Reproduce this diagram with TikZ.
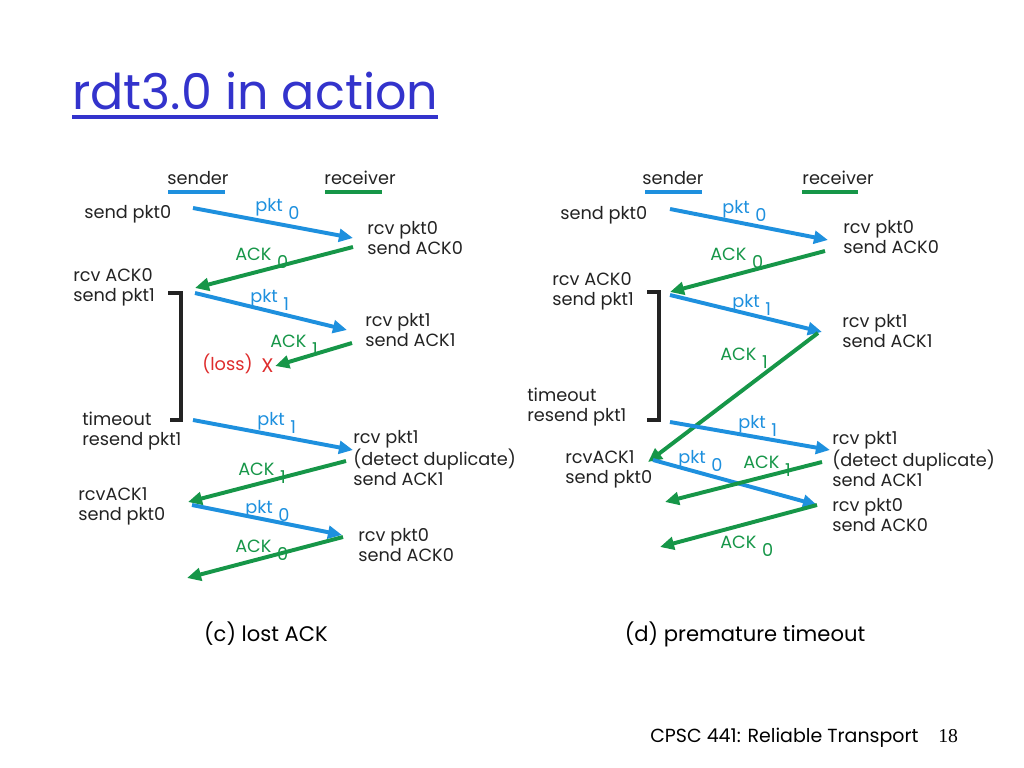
\documentclass[tikz,border=0pt]{standalone}
\usepackage{fontspec}
\setmainfont{Poppins}
\newfontfamily\pagefont{Liberation Serif}
\usetikzlibrary{arrows.meta}
\definecolor{pktblue}{RGB}{30,144,222}
\definecolor{ackgreen}{RGB}{22,150,72}
\definecolor{lossred}{RGB}{222,44,44}
\definecolor{titleblue}{RGB}{51,51,204}
\definecolor{inkgray}{RGB}{35,35,35}
\newcommand{\seqlbl}[2]{#1\hspace{4pt}\raisebox{-6pt}{#2}}

\begin{document}
\begin{tikzpicture}[x=0.025cm, y=-0.025cm, every node/.style={inner sep=0pt},
    txt/.style={font=\fontsize{12.6}{14.2}\selectfont, text=inkgray, align=left, anchor=west},
    seq/.style={font=\fontsize{12.6}{14}\selectfont, anchor=base west},
    pktarrow/.style={draw=pktblue, line width=2.8pt, -{Triangle[length=10pt,width=9pt]}},
    ackarrow/.style={pktarrow, draw=ackgreen},
    timer/.style={draw=inkgray, line width=2.2pt}]
    \useasboundingbox (0,0) rectangle (1024,768);

    % title and footer
    \node[font=\fontsize{35}{38}\selectfont, text=titleblue, anchor=base west] (title) at (72,110) {rdt3.0 in action};
    \draw[titleblue, line width=2.2pt] ([yshift=-5pt]title.base west) -- ([yshift=-5pt]title.base east);
    \node[font=\fontsize{13.5}{15}\selectfont, anchor=base west] (foot) at (650,742) {CPSC 441: Reliable Transport};
    \node[font=\pagefont\fontsize{14}{15}\selectfont, anchor=base west] (page) at (938,742) {18};

    % (c) lost ACK
    \node[txt, anchor=base] (c-sender) at (198,184) {sender};
    \node[txt, anchor=base] (c-receiver) at (360,184) {receiver};
    \draw[pktblue, line width=2.5pt] (168,192) -- (225,192);
    \draw[ackgreen, line width=2.5pt] (325,192) -- (382,192);
    \node[txt] (c-send0) at (84,214) {send pkt0};
    \node[txt] (c-rcv0) at (367,238) {rcv pkt0\\send ACK0};
    \node[txt] (c-rack0) at (73,287) {rcv ACK0\\send pkt1};
    \node[txt] (c-rcv1) at (365,330) {rcv pkt1\\send ACK1};
    \node[txt, text=lossred] (c-loss) at (202,364) {(loss)};
    \node[txt, text=lossred, font=\fontsize{14}{14}\selectfont] (c-x) at (261,366) {X};
    \node[txt] (c-tout) at (82,431) {timeout\\resend pkt1};
    \node[txt] (c-dup) at (353,458) {rcv pkt1\\(detect duplicate)\\send ACK1};
    \node[txt] (c-rack1) at (78,506) {rcvACK1\\send pkt0};
    \node[txt] (c-rcv0b) at (358,545) {rcv pkt0\\send ACK0};
    \node[font=\fontsize{15}{17}\selectfont] (c-cap) at (266,634) {(c) lost ACK};

    \coordinate (c-a1) at (193,208); \coordinate (c-b1) at (353,238);
    \coordinate (c-b2) at (353,247); \coordinate (c-a2) at (195,288);
    \coordinate (c-a3) at (195,293); \coordinate (c-b3) at (347,330);
    \coordinate (c-b4) at (352,343);
    \coordinate (c-a5) at (193,420); \coordinate (c-b5) at (353,450);
    \coordinate (c-b6) at (346,461); \coordinate (c-a6) at (188,502);
    \coordinate (c-a7) at (192,505); \coordinate (c-b7) at (342,535);
    \coordinate (c-b8) at (343,537); \coordinate (c-a8) at (187,578);
    \draw[pktarrow] (c-a1) -- (c-b1);
    \draw[ackarrow] (c-b2) -- (c-a2);
    \draw[pktarrow] (c-a3) -- (c-b3);
    \draw[ackarrow] (c-b4) -- ([xshift=1pt]c-x.east);
    \draw[pktarrow] (c-a5) -- (c-b5);
    \draw[ackarrow] (c-b6) -- (c-a6);
    \draw[pktarrow] (c-a7) -- (c-b7);
    \draw[ackarrow] (c-b8) -- (c-a8);
    \coordinate (c-t0) at (168,293); \coordinate (c-t1) at (170,420);
    \draw[timer] (c-t0) -- ++(13,0) |- (c-t1);

    \node[seq, text=pktblue] (c-l1) at (255,211) {\seqlbl{pkt}{0}};
    \node[seq, text=ackgreen] (c-l2) at (235,260) {\seqlbl{ACK}{0}};
    \node[seq, text=pktblue] (c-l3) at (250,302) {\seqlbl{pkt}{1}};
    \node[seq, text=ackgreen] (c-l4) at (270,347) {\seqlbl{ACK}{1}};
    \node[seq, text=pktblue] (c-l5) at (257,425) {\seqlbl{pkt}{1}};
    \node[seq, text=ackgreen] (c-l6) at (238,475) {\seqlbl{ACK}{1}};
    \node[seq, text=pktblue] (c-l7) at (245,513) {\seqlbl{pkt}{0}};
    \node[seq, text=ackgreen] (c-l8) at (235,552) {\seqlbl{ACK}{0}};

    % (d) premature timeout
    \node[txt, anchor=base] (d-sender) at (673,184) {sender};
    \node[txt, anchor=base] (d-receiver) at (838,184) {receiver};
    \draw[pktblue, line width=2.5pt] (645,192) -- (702,192);
    \draw[ackgreen, line width=2.5pt] (802,192) -- (858,192);
    \node[txt] (d-send0) at (560,215) {send pkt0};
    \node[txt] (d-rcv0) at (843,237) {rcv pkt0\\send ACK0};
    \node[txt] (d-rack0) at (552,291) {rcv ACK0\\send pkt1};
    \node[txt] (d-rcv1) at (842,331) {rcv pkt1\\send ACK1};
    \node[txt] (d-tout) at (527,407) {timeout\\resend pkt1};
    \node[txt] (d-dup) at (832,459) {rcv pkt1\\(detect duplicate)\\send ACK1};
    \node[txt] (d-rack1) at (565,469) {rcvACK1\\send pkt0};
    \node[txt] (d-rcv0b) at (832,515) {rcv pkt0\\send ACK0};
    \node[font=\fontsize{15}{17}\selectfont] (d-cap) at (745,634) {(d) premature timeout};

    \coordinate (d-a1) at (670,209); \coordinate (d-b1) at (828,240);
    \coordinate (d-b2) at (825,251); \coordinate (d-a2) at (670,292);
    \coordinate (d-a3) at (670,295); \coordinate (d-b3) at (822,332);
    \coordinate (d-b4) at (818,333); \coordinate (d-a4) at (648,462);
    \coordinate (d-a5) at (670,422); \coordinate (d-b5) at (830,450);
    \coordinate (d-a6) at (653,460); \coordinate (d-b6) at (817,505);
    \coordinate (d-b7) at (822,462); \coordinate (d-a7) at (665,502);
    \coordinate (d-b8) at (817,505); \coordinate (d-a8) at (660,547);
    \draw[pktarrow] (d-a1) -- (d-b1);
    \draw[ackarrow] (d-b2) -- (d-a2);
    \draw[pktarrow] (d-a3) -- (d-b3);
    \draw[ackarrow] (d-b4) -- (d-a4);
    \draw[pktarrow] (d-a5) -- (d-b5);
    \draw[pktarrow] (d-a6) -- (d-b6);
    \draw[ackarrow] (d-b7) -- (d-a7);
    \draw[ackarrow] (d-b8) -- (d-a8);
    \coordinate (d-t0) at (647,292); \coordinate (d-t1) at (647,420);
    \draw[timer] (d-t0) -- ++(12,0) |- (d-t1);

    \node[seq, text=pktblue] (d-l1) at (722,213) {\seqlbl{pkt}{0}};
    \node[seq, text=ackgreen] (d-l2) at (710,260) {\seqlbl{ACK}{0}};
    \node[seq, text=pktblue] (d-l3) at (732,307) {\seqlbl{pkt}{1}};
    \node[seq, text=ackgreen] (d-l4) at (720,360) {\seqlbl{ACK}{1}};
    \node[seq, text=pktblue] (d-l5) at (738,428) {\seqlbl{pkt}{1}};
    \node[seq, text=pktblue] (d-l6) at (678,463) {\seqlbl{pkt}{0}};
    \node[seq, text=ackgreen] (d-l7) at (743,468) {\seqlbl{ACK}{1}};
    \node[seq, text=ackgreen] (d-l8) at (720,548) {\seqlbl{ACK}{0}};
\end{tikzpicture}
\end{document}
